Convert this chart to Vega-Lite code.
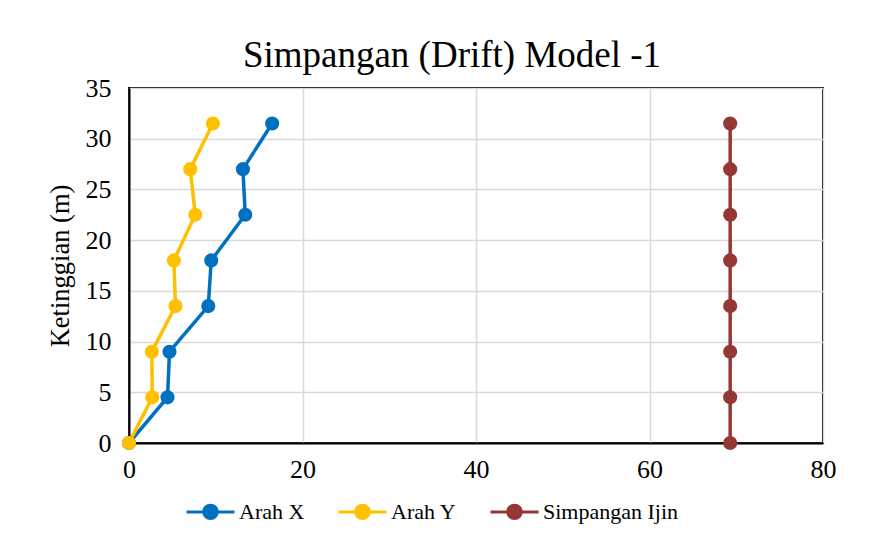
{
  "$schema": "https://vega.github.io/schema/vega-lite/v6.json",
  "width": 694,
  "height": 355,
  "autosize": "none",
  "padding": {"left": 129, "top": 88, "right": 61, "bottom": 108},
  "background": "white",
  "title": {
    "text": "Simpangan (Drift) Model -1",
    "font": "Liberation Serif",
    "fontSize": 37,
    "fontWeight": "normal",
    "color": "black",
    "anchor": "middle",
    "dx": -24,
    "offset": 0
  },
  "config": {
    "font": "Liberation Serif",
    "view": {"stroke": "black", "strokeWidth": 2},
    "axis": {
      "labelFont": "Liberation Serif",
      "titleFont": "Liberation Serif",
      "labelColor": "black",
      "titleColor": "black",
      "gridColor": "#d9d9d9",
      "gridWidth": 1.5,
      "domain": true,
      "domainColor": "black",
      "domainWidth": 2,
      "ticks": false,
      "labelFlush": false
    }
  },
  "data": {
    "values": [
      {"series": "Arah X", "h": 0, "d": 0},
      {"series": "Arah X", "h": 4.5, "d": 4.44},
      {"series": "Arah X", "h": 9, "d": 4.67},
      {"series": "Arah X", "h": 13.5, "d": 9.14},
      {"series": "Arah X", "h": 18, "d": 9.48},
      {"series": "Arah X", "h": 22.5, "d": 13.4},
      {"series": "Arah X", "h": 27, "d": 13.13},
      {"series": "Arah X", "h": 31.5, "d": 16.5},
      {"series": "Arah Y", "h": 0, "d": 0},
      {"series": "Arah Y", "h": 4.5, "d": 2.68},
      {"series": "Arah Y", "h": 9, "d": 2.63},
      {"series": "Arah Y", "h": 13.5, "d": 5.36},
      {"series": "Arah Y", "h": 18, "d": 5.17},
      {"series": "Arah Y", "h": 22.5, "d": 7.64},
      {"series": "Arah Y", "h": 27, "d": 7.06},
      {"series": "Arah Y", "h": 31.5, "d": 9.67},
      {"series": "Simpangan Ijin", "h": 0, "d": 69.3},
      {"series": "Simpangan Ijin", "h": 4.5, "d": 69.3},
      {"series": "Simpangan Ijin", "h": 9, "d": 69.3},
      {"series": "Simpangan Ijin", "h": 13.5, "d": 69.3},
      {"series": "Simpangan Ijin", "h": 18, "d": 69.3},
      {"series": "Simpangan Ijin", "h": 22.5, "d": 69.3},
      {"series": "Simpangan Ijin", "h": 27, "d": 69.3},
      {"series": "Simpangan Ijin", "h": 31.5, "d": 69.3}
    ]
  },
  "encoding": {
    "x": {
      "field": "d",
      "type": "quantitative",
      "scale": {"domain": [0, 80], "nice": false},
      "axis": {
        "title": null,
        "values": [0, 20, 40, 60, 80],
        "labelFontSize": 26,
        "labelPadding": 13
      }
    },
    "y": {
      "field": "h",
      "type": "quantitative",
      "scale": {"domain": [0, 35], "nice": false},
      "axis": {
        "title": "Ketinggian (m)",
        "values": [0, 5, 10, 15, 20, 25, 30, 35],
        "labelFontSize": 26,
        "labelPadding": 18,
        "titleFontSize": 26.5,
        "titleFontWeight": "normal",
        "titlePadding": 11
      }
    },
    "color": {
      "field": "series",
      "type": "nominal",
      "scale": {
        "domain": ["Arah X", "Arah Y", "Simpangan Ijin"],
        "range": ["#0070C0", "#FFC000", "#953735"]
      },
      "legend": {
        "title": null,
        "orient": "none",
        "direction": "horizontal",
        "legendX": 56,
        "legendY": 398,
        "labelFont": "Liberation Serif",
        "labelFontSize": 22,
        "labelColor": "black",
        "labelOffset": 3,
        "columnPadding": 27,
        "symbolType": "M-1,0H1M-0.28,0A0.28,0.28 0 1 0 0.28,0A0.28,0.28 0 1 0 -0.28,0Z",
        "symbolSize": 2304,
        "symbolStrokeWidth": 3,
        "symbolOpacity": 1,
        "encode": {
          "symbols": {
            "update": {
              "fill": {"signal": "scale('color', datum.value)"},
              "stroke": {"signal": "scale('color', datum.value)"},
              "opacity": {"value": 1}
            }
          }
        }
      }
    }
  },
  "layer": [
    {
      "mark": {"type": "line", "strokeWidth": 3.5},
      "encoding": {"order": {"field": "h", "type": "quantitative"}}
    },
    {
      "mark": {"type": "point", "filled": true, "size": 200, "opacity": 1},
      "encoding": {"shape": {"value": "circle"}}
    }
  ]
}
